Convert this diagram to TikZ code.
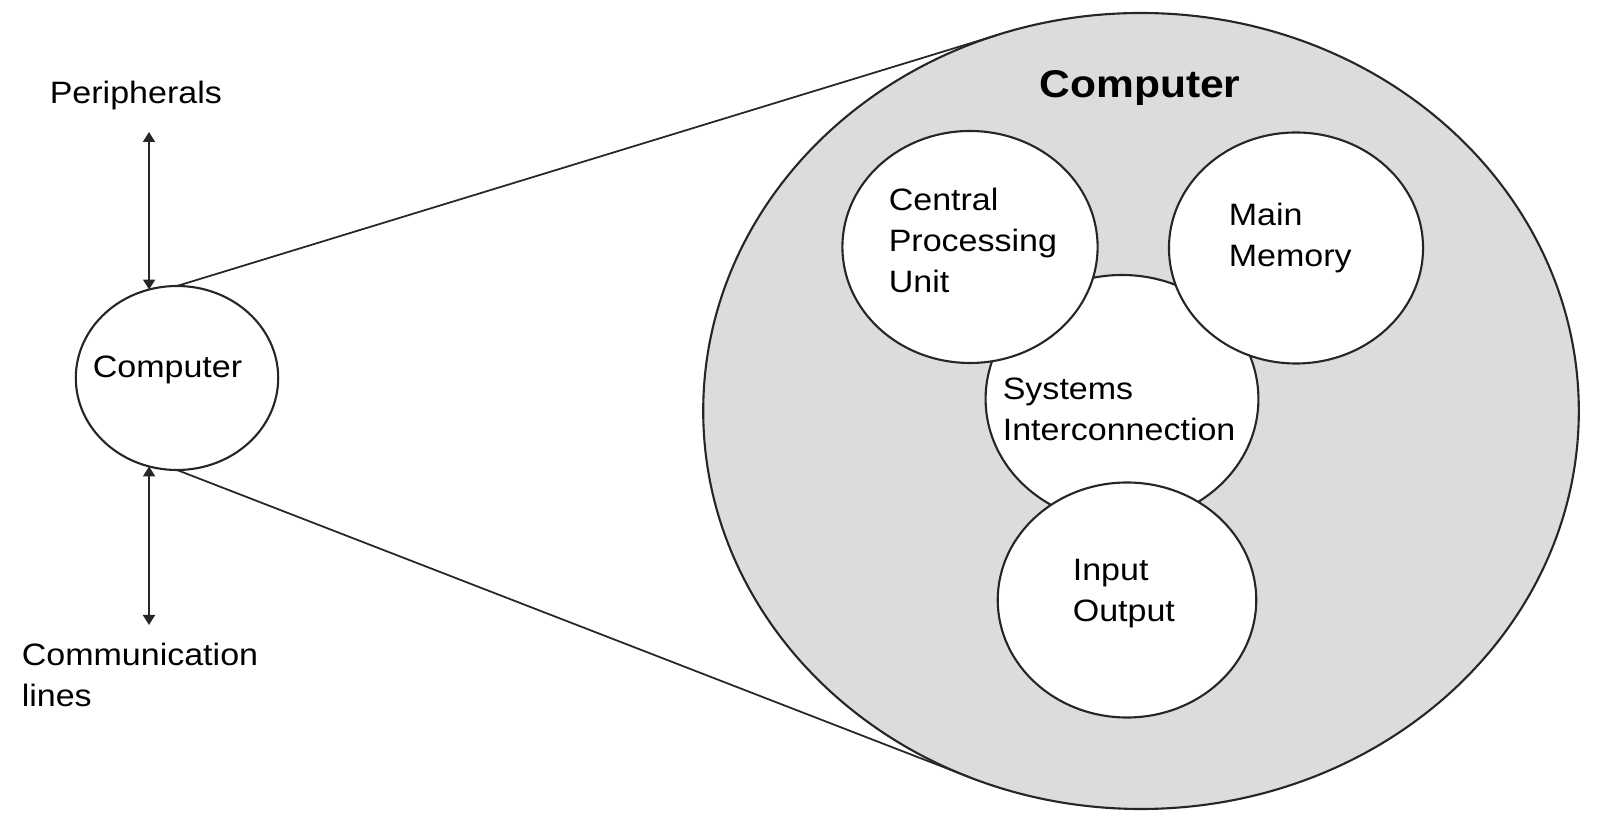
\documentclass[tikz,border=0pt]{standalone}
\usepackage{fontspec}
\setmainfont{Liberation Sans}
\usetikzlibrary{arrows.meta}
\definecolor{shade}{RGB}{220,220,220}
\tikzset{
  ring/.style={circle, draw=black!85, line width=0.6pt, fill=white, inner sep=0pt, outer sep=0pt, xscale=1.1},
  txt/.style={font=\fontsize{8.8}{11.7}\selectfont, align=left, inner sep=0pt, anchor=west, xscale=1.1},
  link/.style={draw=black!85, line width=0.5pt},
  biarrow/.style={draw=black!85, line width=0.5pt, {Triangle[length=1mm,width=1.2mm]}-{Triangle[length=1mm,width=1.2mm]}}
}
\begin{document}
\begin{tikzpicture}
\useasboundingbox (0,0) rectangle (16,8.29);

% the computer, blown up
\node[ring, fill=shade, minimum size=7.96cm] (big) at (11.41,4.18) {};
\node[font=\fontsize{11}{13}\selectfont\bfseries, inner sep=0pt, xscale=1.1] (title) at (11.40,7.41) {Computer};

\node[ring, minimum size=2.48cm] (sys) at (11.22,4.30) {};
\node[ring, minimum size=2.32cm] (cpu) at (9.70,5.82) {};
\node[ring, minimum size=2.31cm] (mem) at (12.96,5.81) {};
\node[ring, minimum size=2.35cm] (io) at (11.27,2.29) {};

\node[txt] (cputext) at (8.88,5.885) {Central\\Processing\\Unit};
\node[txt] (memtext) at (12.28,5.91) {Main\\Memory};
\node[txt] (systext) at (10.02,4.20) {Systems\\Interconnection};
\node[txt] (iotext) at (10.72,2.35) {Input\\Output};

% the computer, small
\node[ring, minimum size=1.84cm] (comp) at (1.77,4.51) {};
\node[txt] (comptext) at (0.92,4.59) {Computer};

\node[txt] (perip) at (0.49,7.33) {Peripherals};
\node[txt] (comm) at (0.21,1.54) {Communication\\lines};

\coordinate (ptop) at (1.49,6.97);
\coordinate (cbot) at (1.49,2.04);
\draw[biarrow] (ptop) -- (comp.106);
\draw[biarrow] (comp.254) -- (cbot);

\draw[link] (comp.north) -- (big.109);
\draw[link] (comp.south) -- (big.247);

\end{tikzpicture}
\end{document}
